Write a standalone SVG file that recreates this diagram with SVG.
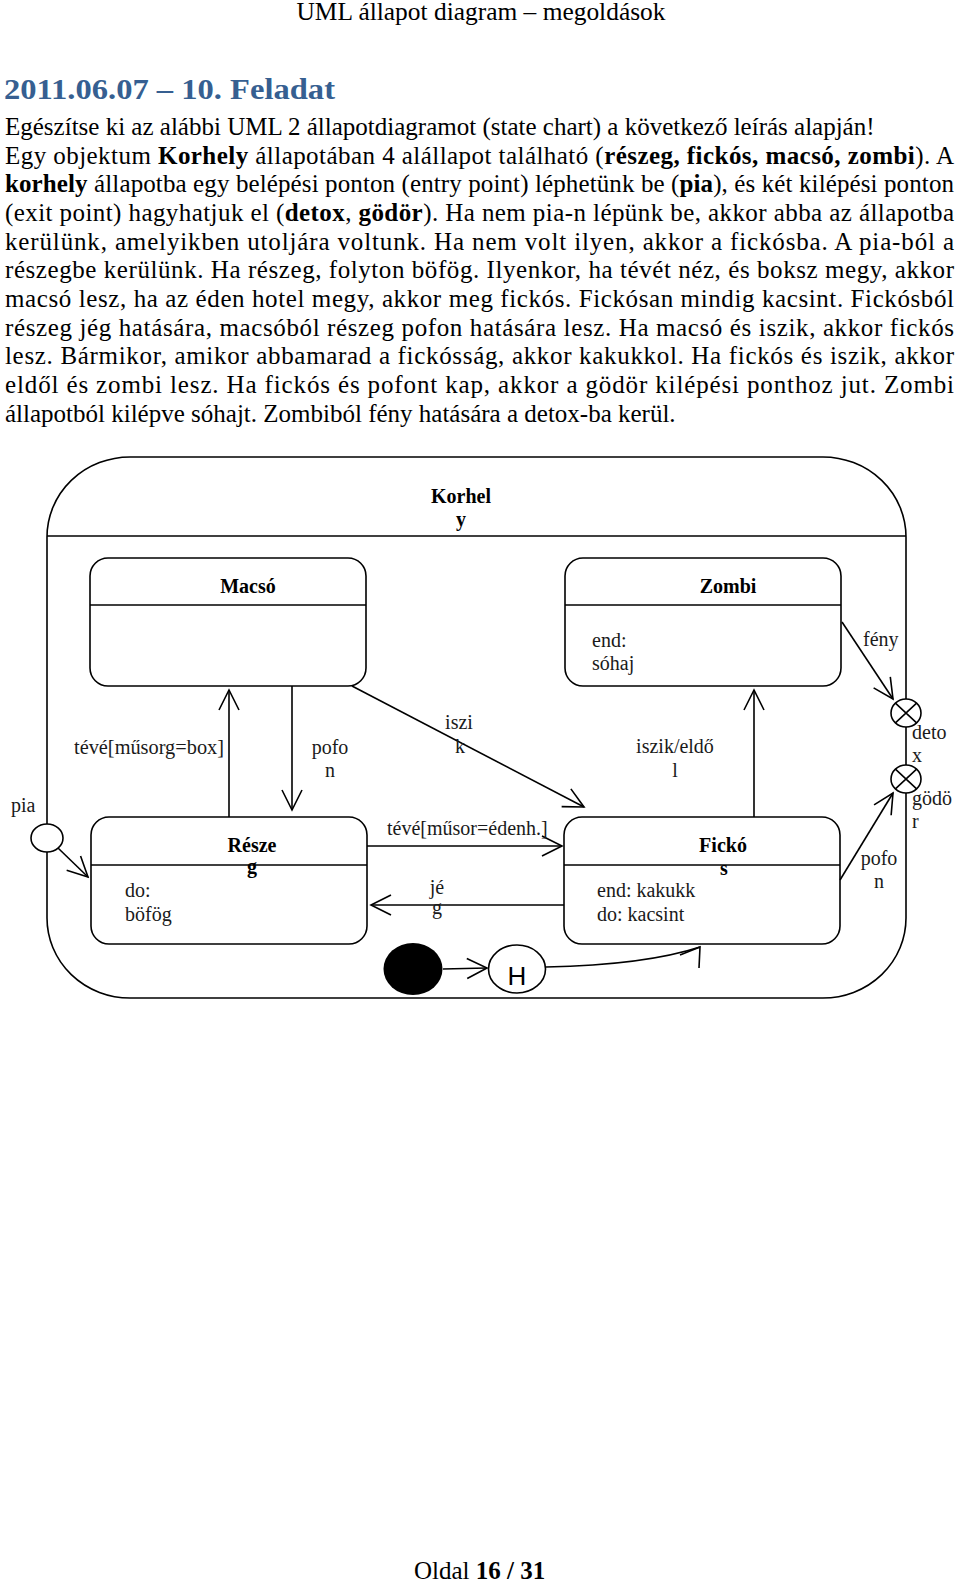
<svg xmlns="http://www.w3.org/2000/svg" width="960" height="1584" viewBox="0 0 960 1584">
<style>
.body{font-family:"Liberation Serif","Times New Roman",serif;font-size:25px;fill:#000}
.b{font-weight:bold}
.lbl{font-family:"Liberation Serif","Times New Roman",serif;font-size:20px;fill:#1a1a1a}
.ttl{font-family:"Liberation Serif","Times New Roman",serif;font-size:20px;font-weight:bold;fill:#000;text-anchor:middle}
.mid{text-anchor:middle}
.st{fill:#fff;stroke:#000;stroke-width:1.6}
.ln{fill:none;stroke:#000;stroke-width:1.6}
.arr{fill:none;stroke:#000;stroke-width:1.6;marker-end:url(#open)}
</style>
<defs>
<marker id="open" viewBox="-24 -12 26 24" markerWidth="26" markerHeight="24" refX="0" refY="0" orient="auto" markerUnits="userSpaceOnUse">
<path d="M-20,-10 L0,0 L-20,10" fill="none" stroke="#000" stroke-width="1.6"/>
</marker>
</defs>
<rect width="960" height="1584" fill="#fff"/>

<text class="body" x="481" y="20" text-anchor="middle" textLength="369" lengthAdjust="spacingAndGlyphs">UML állapot diagram – megoldások</text>
<text x="4" y="99" font-family="'Liberation Serif','Times New Roman',serif" font-size="30" font-weight="bold" fill="#365F91" textLength="331" lengthAdjust="spacingAndGlyphs">2011.06.07 – 10. Feladat</text>

<text class="body" x="5" y="135">Egészítse ki az alábbi UML 2 állapotdiagramot (state chart) a következő leírás alapján!</text>
<text class="body" x="5" y="163.7" textLength="949" lengthAdjust="spacing">Egy objektum <tspan class="b">Korhely</tspan> állapotában 4 alállapot található (<tspan class="b">részeg, fickós, macsó, zombi</tspan>). A</text>
<text class="body" x="5" y="192.3" textLength="949" lengthAdjust="spacing"><tspan class="b">korhely</tspan> állapotba egy belépési ponton (entry point) léphetünk be (<tspan class="b">pia</tspan>), és két kilépési ponton</text>
<text class="body" x="5" y="221" textLength="949" lengthAdjust="spacing">(exit point) hagyhatjuk el (<tspan class="b">detox</tspan>, <tspan class="b">gödör</tspan>). Ha nem pia-n lépünk be, akkor abba az állapotba</text>
<text class="body" x="5" y="249.7" textLength="949" lengthAdjust="spacing">kerülünk, amelyikben utoljára voltunk. Ha nem volt ilyen, akkor a fickósba. A pia-ból a</text>
<text class="body" x="5" y="278.3" textLength="949" lengthAdjust="spacing">részegbe kerülünk. Ha részeg, folyton böfög. Ilyenkor, ha tévét néz, és boksz megy, akkor</text>
<text class="body" x="5" y="307" textLength="949" lengthAdjust="spacing">macsó lesz, ha az éden hotel megy, akkor meg fickós. Fickósan mindig kacsint. Fickósból</text>
<text class="body" x="5" y="335.7" textLength="949" lengthAdjust="spacing">részeg jég hatására, macsóból részeg pofon hatására lesz. Ha macsó és iszik, akkor fickós</text>
<text class="body" x="5" y="364.3" textLength="949" lengthAdjust="spacing">lesz. Bármikor, amikor abbamarad a fickósság, akkor kakukkol. Ha fickós és iszik, akkor</text>
<text class="body" x="5" y="393" textLength="949" lengthAdjust="spacing">eldől és zombi lesz. Ha fickós és pofont kap, akkor a gödör kilépési ponthoz jut. Zombi</text>
<text class="body" x="5" y="421.7">állapotból kilépve sóhajt. Zombiból fény hatására a detox-ba kerül.</text>

<g id="korhely">
<rect class="st" x="47" y="457" width="859" height="541" rx="83" ry="80"/>
<line class="ln" x1="47" y1="536" x2="906" y2="536"/>
<text class="ttl" x="461" y="503">Korhel</text>
<text class="ttl" x="461" y="526">y</text>
</g>

<g id="macso">
<rect class="st" x="90" y="558" width="276" height="128" rx="18"/>
<line class="ln" x1="90" y1="605" x2="366" y2="605"/>
<text class="ttl" x="248" y="593">Macsó</text>
</g>

<g id="zombi">
<rect class="st" x="565" y="558" width="276" height="128" rx="18"/>
<line class="ln" x1="565" y1="605" x2="841" y2="605"/>
<text class="ttl" x="728" y="593">Zombi</text>
<text class="lbl" x="592" y="647">end:</text>
<text class="lbl" x="592" y="670">sóhaj</text>
</g>

<g id="reszeg">
<rect class="st" x="91" y="817" width="276" height="127" rx="18"/>
<line class="ln" x1="91" y1="865" x2="367" y2="865"/>
<text class="ttl" x="252" y="852">Része</text>
<text class="ttl" x="252" y="873">g</text>
<text class="lbl" x="125" y="897">do:</text>
<text class="lbl" x="125" y="921">böfög</text>
</g>

<g id="fickos">
<rect class="st" x="564" y="817" width="276" height="127" rx="18"/>
<line class="ln" x1="564" y1="865" x2="840" y2="865"/>
<text class="ttl" x="723" y="852">Fickó</text>
<text class="ttl" x="724" y="875">s</text>
<text class="lbl" x="597" y="897">end: kakukk</text>
<text class="lbl" x="597" y="921">do: kacsint</text>
</g>

<g id="initial">
<ellipse cx="413" cy="969" rx="29.5" ry="26" fill="#000"/>
</g>

<g id="history">
<ellipse class="st" cx="517" cy="969" rx="28.5" ry="24"/>
<text x="517" y="985" text-anchor="middle" font-family="'Liberation Sans',Arial,sans-serif" font-size="26" fill="#000">H</text>
</g>

<g id="pia">
<ellipse class="st" cx="47" cy="838" rx="16" ry="14"/>
<text class="lbl" x="11" y="812">pia</text>
</g>

<g id="detox">
<ellipse class="st" cx="906" cy="713" rx="15" ry="14"/>
<path class="ln" d="M895.4,703.1 L916.6,722.9 M916.6,703.1 L895.4,722.9"/>
<text class="lbl" x="912" y="739">deto</text>
<text class="lbl" x="912" y="762">x</text>
</g>

<g id="godor">
<ellipse class="st" cx="906" cy="779" rx="15" ry="14"/>
<path class="ln" d="M895.4,769.1 L916.6,788.9 M916.6,769.1 L895.4,788.9"/>
<text class="lbl" x="912" y="805">gödö</text>
<text class="lbl" x="912" y="828">r</text>
</g>

<g id="connectors">
<line class="arr" x1="229" y1="817" x2="229" y2="690"/>
<text class="lbl" x="74" y="754" textLength="150" lengthAdjust="spacingAndGlyphs">tévé[műsorg=box]</text>
<line class="arr" x1="292" y1="686" x2="292" y2="810"/>
<text class="lbl mid" x="330" y="754">pofo</text>
<text class="lbl mid" x="330" y="777">n</text>
<line class="arr" x1="352" y1="686" x2="584" y2="807"/>
<text class="lbl mid" x="459" y="729">iszi</text>
<text class="lbl mid" x="460" y="753">k</text>
<line class="arr" x1="754" y1="817" x2="754" y2="690"/>
<text class="lbl mid" x="675" y="753">iszik/eldő</text>
<text class="lbl mid" x="675" y="777">l</text>
<line class="arr" x1="367" y1="846" x2="562" y2="846"/>
<text class="lbl" x="387" y="835">tévé[műsor=édenh.]</text>
<line class="arr" x1="564" y1="905" x2="371" y2="905"/>
<text class="lbl mid" x="437" y="894">jé</text>
<text class="lbl mid" x="437" y="914">g</text>
<line class="arr" x1="443" y1="969" x2="487" y2="968"/>
<path class="ln" d="M546,967 Q645,965 700,947"/>
<polyline class="ln" points="680,955 700,947 699,968"/>
<line class="arr" x1="58" y1="848" x2="88" y2="877"/>
<line class="arr" x1="842" y1="622" x2="893" y2="699"/>
<text class="lbl" x="863" y="646">fény</text>
<line class="arr" x1="840" y1="880" x2="893" y2="793"/>
<text class="lbl mid" x="879" y="865">pofo</text>
<text class="lbl mid" x="879" y="888">n</text>
</g>

<text class="body" x="414" y="1579">Oldal <tspan class="b">16 / 31</tspan></text>
</svg>
